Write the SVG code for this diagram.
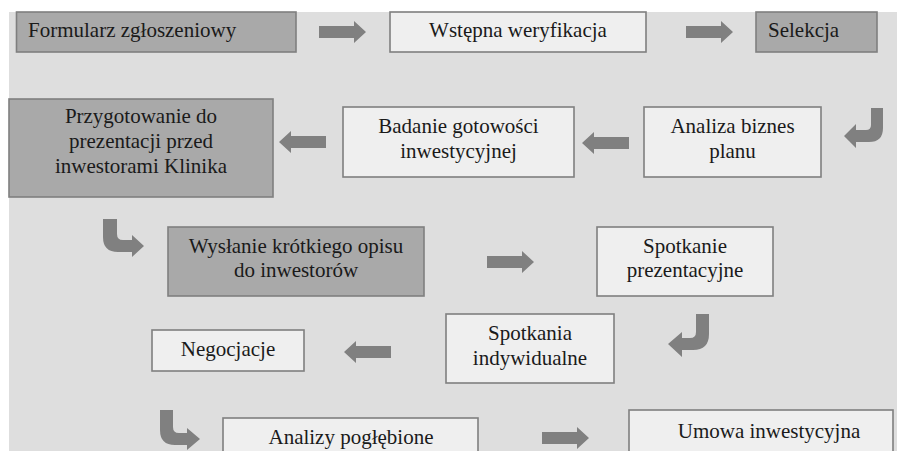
<svg xmlns="http://www.w3.org/2000/svg" width="897" height="451" viewBox="0 0 897 451">
<style>
.dark{fill:#a9a9a9;stroke:#7f7f7f;stroke-width:1.6}
.light{fill:#efefef;stroke:#7f7f7f;stroke-width:1.6}
text{font-family:'Liberation Serif','DejaVu Serif',serif;font-size:21px;fill:#1a1a1a}
.c{text-anchor:middle}
.arr{fill:#808080}
</style>
<defs>
<path id="ar" d="M0 -6 H35 V-11 L47 0 L35 11 V6 H0 Z"/>
</defs>
<rect x="0" y="0" width="897" height="451" fill="#ffffff"/>
<rect x="9" y="12" width="888" height="439" fill="#dedede"/>
<g id="n1"><rect class="dark" x="16.5" y="12" width="279.5" height="40"/><text x="28" y="37">Formularz zgłoszeniowy</text></g>
<g id="n2"><rect class="light" x="390" y="12" width="256" height="40"/><text class="c" x="518" y="37">Wstępna weryfikacja</text></g>
<g id="n3"><rect class="dark" x="756" y="12" width="121" height="40"/><text x="768" y="37">Selekcja</text></g>

<g id="n4"><rect class="light" x="644" y="107" width="177" height="70"/><text class="c" x="732.5" y="133">Analiza biznes</text><text class="c" x="732.5" y="158">planu</text></g>
<g id="n5"><rect class="light" x="343" y="107" width="231" height="70"/><text class="c" x="458.5" y="133">Badanie gotowości</text><text class="c" x="458.5" y="158">inwestycyjnej</text></g>
<g id="n6"><rect class="dark" x="9" y="99" width="264" height="98"/><text class="c" x="141" y="123">Przygotowanie do</text><text class="c" x="141" y="148">prezentacji przed</text><text class="c" x="141" y="173">inwestorami Klinika</text></g>

<g id="n7"><rect class="dark" x="168" y="227" width="256" height="69"/><text class="c" x="296" y="253">Wysłanie krótkiego opisu</text><text class="c" x="296" y="277">do inwestorów</text></g>
<g id="n8"><rect class="light" x="597" y="227" width="176" height="69"/><text class="c" x="685" y="253">Spotkanie</text><text class="c" x="685" y="277">prezentacyjne</text></g>

<g id="n9"><rect class="light" x="446" y="314" width="168" height="69"/><text class="c" x="530" y="340">Spotkania</text><text class="c" x="530" y="365">indywidualne</text></g>
<g id="n10"><rect class="light" x="152" y="330" width="152" height="41"/><text class="c" x="228" y="356">Negocjacje</text></g>

<g id="n11"><rect class="light" x="223" y="418" width="255" height="40"/><text class="c" x="351" y="444">Analizy pogłębione</text></g>
<g id="n12"><rect class="light" x="629" y="410" width="264" height="48"/><text class="c" x="769" y="438">Umowa inwestycyjna</text></g>

<g id="connectors" class="arr">
<use href="#ar" transform="translate(319,32)"/>
<use href="#ar" transform="translate(686,32)"/>
<path d="M871 108 H883 V128 Q883 142 869 142 H856 V148 L844 136 L856 124 V130 H866 Q871 130 871 125 Z"/>
<use href="#ar" transform="translate(629,143) scale(-1,1)"/>
<use href="#ar" transform="translate(326,142) scale(-1,1)"/>
<path d="M103 219 H117 V234 Q117 240 123 240 H132 V235 L144 246 L132 257 V252 H118 Q103 252 103 237 Z"/>
<use href="#ar" transform="translate(487,262)"/>
<path d="M696 314 H709 V334 Q709 350 693 350 H682 V357 L668 344 L682 332 V338 H690 Q696 338 696 332 Z"/>
<use href="#ar" transform="translate(391,352) scale(-1,1)"/>
<path d="M160 410 H173 V427 Q173 433 179 433 H187 V428 L200 439 L187 450 V445 H175 Q160 445 160 430 Z"/>
<use href="#ar" transform="translate(542,438)"/>
</g>
</svg>
